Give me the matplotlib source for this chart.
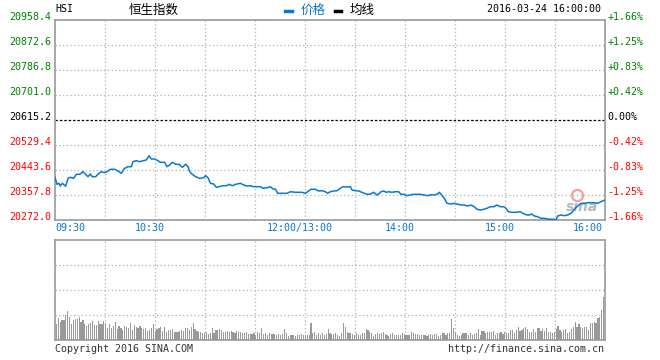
import numpy as np
import matplotlib
matplotlib.use('Agg')
import matplotlib.pyplot as plt
from matplotlib.lines import Line2D
from matplotlib.transforms import offset_copy

# ------------------- Data -------------------
# minutes since 09:30 (trading minutes, lunch removed), price of HSI
minutes_am = [0, 1.2, 2.4, 3.2, 4.4, 5.6, 6.4, 7.8, 9.2, 11.2, 12.8, 14.8, 16.8, 18.8, 19.8,
              21.2, 22.4, 24.4, 25.8, 27.8, 29.8, 31.2, 33.2, 35.8, 37.8, 39.8, 41.8, 43.8,
              45.8, 46.8, 48.8, 50.8, 52.8, 54.8, 56.4, 57.8, 59.8, 61.8, 63.2, 65.8, 67.2,
              68.8, 70.4, 72.4, 74.4, 76.4, 78.4, 79.8, 80.8, 82.4, 84.4, 86.8, 89.2, 90.4,
              91.8, 93.2, 95.2, 96.8, 98.4, 100.8, 102.8, 104.4, 106.4, 108.4]
price_am = [20418.5, 20394.5, 20398.0, 20388.7, 20398.0, 20392.0, 20387.7, 20415.0, 20418.5,
            20415.0, 20428.8, 20428.8, 20437.8, 20426.4, 20420.6, 20429.9, 20420.6, 20420.6,
            20429.9, 20437.8, 20434.3, 20437.8, 20446.0, 20446.0, 20440.2, 20432.3, 20449.4,
            20455.0, 20455.0, 20472.1, 20475.5, 20472.1, 20475.5, 20477.9, 20492.7, 20481.4,
            20481.4, 20475.5, 20470.0, 20470.0, 20455.0, 20460.8, 20470.0, 20463.2, 20463.2,
            20452.9, 20463.2, 20455.0, 20437.8, 20428.8, 20420.6, 20415.0, 20417.2, 20424.0,
            20417.2, 20398.0, 20395.6, 20384.2, 20386.3, 20389.7, 20389.7, 20394.5, 20389.7,
            20394.5]

minutes_mid = [109.2, 111.2, 113.2, 115.2, 117.2, 119.2, 121.2, 123.2, 124.8, 127.2, 129.2,
               130.8, 132.2, 133.6, 135.2, 137.2, 139.2, 141.2, 144.2, 146.2, 148.2, 150.2,
               152.2, 153.6, 156.2, 158.2, 160.2, 162.2, 163.6, 165.2, 167.2, 169.2, 171.2,
               172.8, 174.8, 177.2, 178.2, 180.2, 182.2, 184.2, 186.2, 187.8, 189.2, 191.2,
               193.2, 194.8, 195.6, 197.2, 198.8, 200.2, 202.2, 204.2, 206.2, 207.6, 209.2,
               211.2, 213.2, 215.2, 217.2, 218.8]
price_mid = [20395.6, 20398.0, 20392.1, 20388.7, 20389.7, 20386.3, 20386.3, 20386.3, 20380.8,
             20382.9, 20386.3, 20378.4, 20378.4, 20363.6, 20363.6, 20363.6, 20363.6, 20369.1,
             20367.1, 20367.1, 20367.1, 20363.6, 20371.5, 20377.4, 20377.4, 20371.5, 20372.6,
             20369.1, 20363.6, 20369.1, 20371.5, 20372.6, 20380.8, 20386.3, 20385.3, 20386.3,
             20375.0, 20372.6, 20371.5, 20367.1, 20362.3, 20360.2, 20361.2, 20367.1, 20357.8,
             20363.6, 20369.1, 20371.5, 20367.1, 20369.1, 20367.1, 20369.1, 20369.1, 20360.2,
             20360.2, 20355.4, 20357.8, 20360.2, 20360.2, 20360.2]

minutes_pm = [221.6, 223.6, 225.6, 227.6, 229.6, 230.6, 232.0, 233.6, 235.2, 237.6, 239.6,
              241.2, 243.6, 245.6, 247.6, 249.6, 251.6, 253.2, 255.2, 257.2, 259.2, 261.2,
              263.2, 265.2, 267.2, 269.2, 270.6, 272.0, 274.0, 276.6, 279.2, 280.6, 283.2,
              284.6, 286.0, 287.6, 289.6, 291.6, 293.6, 295.6, 298.0, 299.6, 300.6, 301.6,
              303.6, 305.6, 307.6, 309.6, 311.6, 313.6, 315.6, 317.6, 319.6, 321.6, 323.6,
              325.6, 327.6, 330]
price_pm = [20357.8, 20355.4, 20358.8, 20357.8, 20361.2, 20367.1, 20357.8, 20346.5, 20329.3,
            20326.9, 20329.3, 20326.9, 20323.5, 20323.5, 20320.0, 20323.5, 20317.6, 20308.7,
            20306.3, 20308.7, 20312.2, 20317.6, 20317.6, 20323.5, 20317.6, 20317.6, 20312.2,
            20300.5, 20298.4, 20298.4, 20300.5, 20295.0, 20289.2, 20289.2, 20292.6, 20285.7,
            20283.3, 20277.8, 20277.8, 20275.4, 20274.4, 20274.4, 20272.0, 20285.7, 20289.2,
            20286.8, 20289.2, 20295.0, 20308.7, 20320.0, 20329.3, 20329.3, 20331.4, 20331.4,
            20331.4, 20329.3, 20334.8, 20340.6]

# volume bar heights (percent of panel height)
vol_am = [16, 21.7, 18.3, 20, 20, 25, 29, 22.7, 16, 20,
          21, 21, 23.3, 18.3, 20, 16, 14.3, 16, 16.7, 19,
          15, 15, 19, 16, 16, 19, 16.7, 12.3, 16, 12.3,
          14.3, 18.3, 11, 14.3, 12.3, 10, 14.3, 13.3, 12.3, 17.3,
          10, 15, 13.3, 11.7, 14.3, 11.7, 11, 11.7, 9.3, 10,
          11.7, 16, 9.3, 11, 11.7, 12.7, 9, 13.3, 8.3, 10,
          10, 11, 8.3, 8.3, 8.3, 9.3, 10, 9.3, 11.7, 12.3,
          10, 13.3, 17.3, 11, 9.3, 8.3, 8.3, 7.3, 7.3, 8.3,
          6, 7.3, 12.3, 7.3, 10, 10, 11, 10, 8.3, 8.3,
          9, 8.3, 9, 8.3, 7.3, 9, 8.3, 8.3, 6.7]
vol_mid = [6.7, 8.3, 6, 6, 6, 6.7, 5, 8.3, 6.7, 11.7, 6, 7.3, 5, 6.7, 6, 6, 6, 5, 6, 5,
           6, 11, 7.3, 4.3, 5, 5, 5, 4.3, 5, 5, 6, 5, 5, 5, 5, 16.7, 6.7, 7.7, 5, 6.7,
           5, 7.3, 5, 5.7, 11, 6.7, 6, 6, 6.7, 5, 4.3, 6.7, 16.7, 12.7, 8.3, 6.7, 6.7, 6,
           5, 6.7, 5, 5, 6.7, 7.3, 11, 10, 8.3, 7.3, 4.3, 6, 6.7, 6, 7.3, 8.3, 5.7, 5, 4.3,
           5.7, 6.7, 5, 5, 5, 5, 6.7, 6, 5, 5, 5, 8.3, 7.3, 6, 6, 5, 5, 5]
vol_pm = [5, 4.3, 5, 6, 5, 6, 6, 4.3, 5, 6.7, 6.7, 5, 6.7, 6.7, 21, 11.7, 8.3, 5, 4.3, 5,
          6.7, 6.7, 6.7, 5, 6.7, 5, 6, 6.7, 11, 5, 9, 9, 6.7, 7.7, 7.7, 8.3, 9, 5, 7.3, 7.3,
          8.3, 5.7, 7.7, 6.7, 7.3, 10, 10, 6.7, 10, 13.3, 9, 10, 11.7, 12.7, 11, 8.3, 8.3,
          11, 7.7, 11.7, 11.7, 9.3, 11, 9.3, 11.7, 8.3, 8.3, 7.3, 8.3, 11, 14.3, 10, 8.3, 10,
          11, 6.7, 8.3, 11, 13.3, 18.3, 13.3, 16, 12.7, 11.7, 13.3, 12.7, 10, 16.7, 16.7,
          18.3, 16.7, 21.7, 22.7, 30, 43.3]

prev_close = 20615.2
price_ticks = [20958.4, 20872.6, 20786.8, 20701.0, 20615.2, 20529.4, 20443.6, 20357.8, 20272.0]
pct_labels = ['+1.66%', '+1.25%', '+0.83%', '+0.42%', '0.00%', '-0.42%', '-0.83%', '-1.25%', '-1.66%']
time_ticks = [0, 60, 150, 210, 270, 330]
time_labels = ['09:30', '10:30', '12:00/13:00', '14:00', '15:00', '16:00']

# ------------------- Style -------------------
MONO = 'DejaVu Sans Mono'
CJK = ['Noto Sans CJK SC', 'DejaVu Sans']
BLUE = '#0a78cc'
GRID = '#b0b0b0'
FRAME = '#999999'
W, H = 660, 360

fig = plt.figure(figsize=(6.6, 3.6), dpi=100)
ax = fig.add_axes([55 / W, 1 - 220 / H, 550 / W, 200 / H])
axv = fig.add_axes([55 / W, 1 - 340 / H, 550 / W, 100 / H])

for a in (ax, axv):
    a.set_xlim(0, 330)
    a.set_xticks([])
    a.set_yticks([])
    for s in a.spines.values():
        s.set_color(FRAME)
        s.set_linewidth(1.2)
    for m in range(30, 330, 30):
        a.axvline(m, color=GRID, lw=0.9, ls=(0, (1, 2)), zorder=0)

# ------------------- Price panel -------------------
ax.set_ylim(price_ticks[-1], price_ticks[0])
for v in price_ticks[1:-1]:
    if v == prev_close:
        ax.axhline(v, color='black', lw=0.9, ls=(0, (2, 1.5)), zorder=1)
    else:
        ax.axhline(v, color=GRID, lw=0.9, ls=(0, (1, 2)), zorder=0)

t = minutes_am + minutes_mid + minutes_pm
p = price_am + price_mid + price_pm
ax.plot(t, p, color=BLUE, lw=1.1, zorder=3)

ytr = ax.get_yaxis_transform()
for v, lab in zip(price_ticks, pct_labels):
    if v > prev_close:
        c = '#008000'
    elif v < prev_close:
        c = '#ff0000'
    else:
        c = 'black'
    ax.text(-0.007, v, f'{v:.1f}', transform=ytr, ha='right', va='baseline',
            fontsize=7.2, family=MONO, color=c)
    ax.text(1.004, v, lab, transform=ytr, ha='left', va='baseline',
            fontsize=7.2, family=MONO, color=c)

xtr = offset_copy(ax.get_xaxis_transform(), fig=fig, x=-5.5, y=0, units='dots')
for m, lab in zip(time_ticks, time_labels):
    if m == 0:
        ax.text(m, -0.04, lab, transform=ax.get_xaxis_transform(), ha='left', va='center',
                fontsize=7.2, family=MONO, color=BLUE)
    elif m == 330:
        ax.text(m, -0.04, lab, transform=offset_copy(ax.get_xaxis_transform(), fig=fig,
                x=-2, y=0, units='dots'), ha='right', va='center',
                fontsize=7.2, family=MONO, color=BLUE)
    else:
        ax.text(m, -0.04, lab, transform=xtr, ha='center', va='center',
                fontsize=7.2, family=MONO, color=BLUE)

# sina watermark
ax.plot([313], [20358], 'o', ms=8, mfc='none', mec='#f4a0a0', mew=1.6, zorder=2)
ax.text(316, 20318, 'sina', fontsize=10, fontweight='bold', style='italic',
        color='#b8b8b8', ha='center', va='center', zorder=2)

# ------------------- Volume panel -------------------
vols = vol_am + vol_mid + vol_pm
xs = np.linspace(0.8, 329.2, len(vols))
axv.set_ylim(0, 100)
for v in (25, 50, 75):
    axv.axhline(v, color=GRID, lw=0.9, ls=(0, (1, 2)), zorder=0)
axv.bar(xs, vols, width=0.7, color='#999999', antialiased=False, zorder=2)

# ------------------- Header / footer -------------------
def ftext(x, y, s, **kw):
    fig.text(x / W, 1 - y / H, s, **kw)

ftext(55, 9.5, 'HSI', ha='left', va='center', fontsize=7.2, family=MONO)
ftext(154, 10, '恒生指数', ha='center', va='center', fontsize=9, family=CJK)
fig.add_artist(Line2D([285 / W, 292 / W], [1 - 11 / H] * 2, color=BLUE, lw=2.5))
ftext(301, 10, '价格', ha='left', va='center', fontsize=9, family=CJK, color=BLUE)
fig.add_artist(Line2D([335 / W, 341 / W], [1 - 11 / H] * 2, color='black', lw=2.5))
ftext(350, 10, '均线', ha='left', va='center', fontsize=9, family=CJK, color='black')
ftext(601, 9.5, '2016-03-24 16:00:00', ha='right', va='center', fontsize=7.2, family=MONO)
ftext(55, 349, 'Copyright 2016 SINA.COM', ha='left', va='center', fontsize=7.2,
      family=MONO, color='#333333')
ftext(604, 349, 'http://finance.sina.com.cn', ha='right', va='center', fontsize=7.2,
      family=MONO, color='#333333')

fig.savefig('out.png', dpi=100)
